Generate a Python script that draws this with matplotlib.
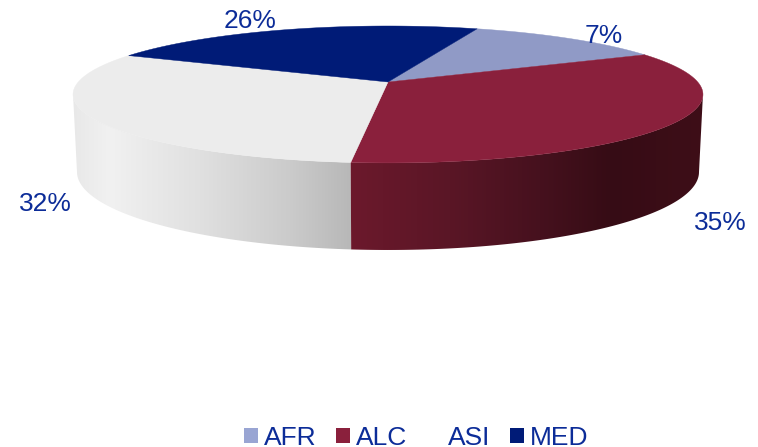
import numpy as np
import matplotlib
matplotlib.use("Agg")
import matplotlib.pyplot as plt
from matplotlib.patches import Rectangle, Polygon

categories = ["AFR", "ALC", "ASI", "MED"]
# printed labels
percent_labels = ["7%", "35%", "32%", "26%"]
# size of the slices as drawn, the AFR slice is bigger than its label says
slice_shares = [12.2, 33.9, 30.5, 23.4]
top_colors = ["#909ac6", "#8a203c", "#ececec", "#001b77"]
legend_colors = ["#99a5d3", "#8a203c", "#ffffff", "#001b77"]
text_color = "#0c2c98"

start_angle = 70.3

# side shading, x pixel -> colour
asi_x = [73, 110, 200, 290, 350]
asi_rgb = [(232, 232, 232), (241, 241, 241), (224, 224, 224), (203, 203, 203), (184, 184, 184)]
alc_x = [350, 450, 540, 610, 703]
alc_rgb = [(108, 25, 44), (90, 22, 38), (70, 17, 30), (54, 12, 21), (62, 14, 24)]


def project(u, v, y0, b, c, a=0.182, x0=388):
    # circle in the pie plane to picture pixels, with some perspective
    return x0 + c * u / (1 + a * v), y0 - b * v / (1 + a * v)


def top(theta):
    return project(np.cos(theta), np.sin(theta), 82, 66.2, 309.7)


def bottom(theta):
    return project(np.cos(theta), np.sin(theta), 157.8, 75.4, 305.8)


def draw_wall(ax, theta0, theta1, xs, rgb):
    # horizontal gradient, clipped to the wall between the two rims
    th = np.linspace(theta0, theta1, 200)
    xt, yt = top(th)
    xb, yb = bottom(th)
    outline = Polygon(np.c_[np.r_[xt, xb[::-1]], np.r_[yt, yb[::-1]]],
                      transform=ax.transData, fc="none", ec="none")
    ax.add_patch(outline)
    rgb = np.array(rgb) / 255
    px = np.arange(758) + 0.5
    row = np.stack([np.interp(px, xs, rgb[:, i]) for i in range(3)], axis=-1)
    im = ax.imshow(row[np.newaxis, :, :], extent=(0, 758, 447, 0), aspect="auto",
                   interpolation="nearest", zorder=1)
    im.set_clip_path(outline)


plt.rcParams["font.family"] = ["Liberation Sans", "DejaVu Sans"]
fig = plt.figure(figsize=(7.58, 4.47), dpi=100)
ax = fig.add_axes([0, 0, 1, 1])

# slice edges, going clockwise from the start angle
edges = np.radians(start_angle - np.cumsum([0] + slice_shares) * 3.6)
split = edges[2]  # ALC / ASI border on the front side

# widest points of the rim are a bit in front of the middle because of the perspective
rim_angle = np.arcsin(0.182)
draw_wall(ax, -np.pi + rim_angle, split, asi_x, asi_rgb)
draw_wall(ax, split, -rim_angle, alc_x, alc_rgb)

ax.set_xlim(0, 758)
ax.set_ylim(447, 0)
ax.axis("off")

# top faces
center = project(0, 0, 82, 66.2, 309.7)
for i in range(len(categories)):
    th = np.linspace(edges[i], edges[i + 1], 200)
    x, y = top(th)
    ax.fill(np.r_[center[0], x], np.r_[center[1], y], color=top_colors[i], lw=0.3, zorder=2)

label_x = [604, 720, 45, 250]
label_y = [36, 223, 204, 21]
for i in range(len(categories)):
    ax.text(label_x[i], label_y[i], percent_labels[i], color=text_color, fontsize=19,
            ha="center", va="center", zorder=5)

# legend
box_x = [244, 336, 428, 510]
for i in range(len(categories)):
    ax.add_patch(Rectangle((box_x[i], 428), 14, 15, color=legend_colors[i], lw=0, zorder=5))
    ax.text(box_x[i] + 19.5, 445, categories[i], color=text_color, fontsize=19,
            ha="left", va="baseline", zorder=5)

fig.savefig("out.png", dpi=100)
